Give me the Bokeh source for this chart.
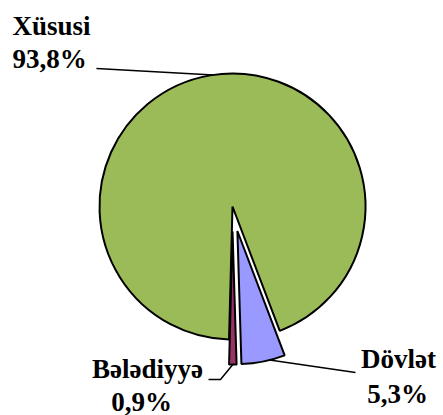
import math
from bokeh.plotting import figure
from bokeh.models import Range1d, ColumnDataSource
from bokeh.core.properties import value
from bokeh.embed import file_html
from bokeh.resources import INLINE

# ---- data ----
categories = ["Xüsusi", "Dövlət", "Bələdiyyə"]
shares = [93.8, 5.3, 0.9]
colors = ["#9BBB59", "#9999FF", "#993366"]

# ---- layout / style ----
W, H = 443, 415
explode = [0, 25, 25]
R = 133
START_CW = 181.5  # degrees, clockwise from 12 o'clock
TEXT_DY = -10     # renderer baseline correction


def px(xi, yi):
    """image pixel coords -> data coords"""
    return xi, H - yi


cx, cy = px(232, 206)

total = sum(shares)
xs, ys, starts, ends, mids = [], [], [], [], []
cum = START_CW
for s, e in zip(shares, explode):
    c0 = cum
    c1 = cum + s / total * 360.0
    mid = (c0 + c1) / 2
    cum = c1
    m = math.radians(90 - mid)
    xs.append(cx + e * math.cos(m))
    ys.append(cy + e * math.sin(m))
    starts.append(math.radians(90 - c0))
    ends.append(math.radians(90 - c1))
    mids.append(mid)

src = ColumnDataSource(dict(x=xs, y=ys, start=starts, end=ends, color=colors))

p = figure(width=W, height=H, x_range=Range1d(0, W), y_range=Range1d(0, H),
           output_backend="svg", toolbar_location=None, min_border=0,
           x_axis_location=None, y_axis_location=None)
p.grid.visible = False
p.outline_line_color = None
p.background_fill_color = "white"
p.border_fill_color = "white"

p.wedge(x="x", y="y", radius=R, start_angle="start", end_angle="end",
        direction="clock", fill_color="color", line_color="black",
        line_width=2, source=src)


def on_arc(i, c_deg):
    a = math.radians(90 - c_deg)
    return xs[i] + R * math.cos(a), ys[i] + R * math.sin(a)


def fmt(v):
    return f"{v:.1f}".replace(".", ",") + "%"


# leader lines
g = on_arc(0, 351.7)
a0 = px(96, 68)
p.line([a0[0], g[0]], [a0[1], g[1]], line_color="black", line_width=1.5)

b = on_arc(1, 166)
a1 = px(355, 372)
p.line([b[0], a1[0]], [b[1], a1[1]], line_color="black", line_width=1.5)

m = on_arc(2, mids[2])
k1 = px(220, 379)
k2 = px(208, 379)
p.line([m[0], k1[0], k2[0]], [m[1], k1[1], k2[1]], line_color="black", line_width=1.5)

font = dict(text_font=value("Liberation Serif"), text_font_style="bold",
            text_font_size="27px", text_color="black", text_baseline="alphabetic")

# label positions (image coords)
lab_x1 = [12, 398, 147]
lab_x2 = [12, 397, 141]
lab_align = ["left", "center", "center"]
lab_y1 = [35, 368, 378]
lab_y2 = [68, 403, 411]

for i in range(3):
    x1, y1 = px(lab_x1[i], lab_y1[i] + TEXT_DY)
    x2, y2 = px(lab_x2[i], lab_y2[i] + TEXT_DY)
    p.text(x=[x1], y=[y1], text=[categories[i]], text_align=lab_align[i], **font)
    p.text(x=[x2], y=[y2], text=[fmt(shares[i])], text_align=lab_align[i], **font)

open("out.html", "w").write(file_html(p, INLINE))
